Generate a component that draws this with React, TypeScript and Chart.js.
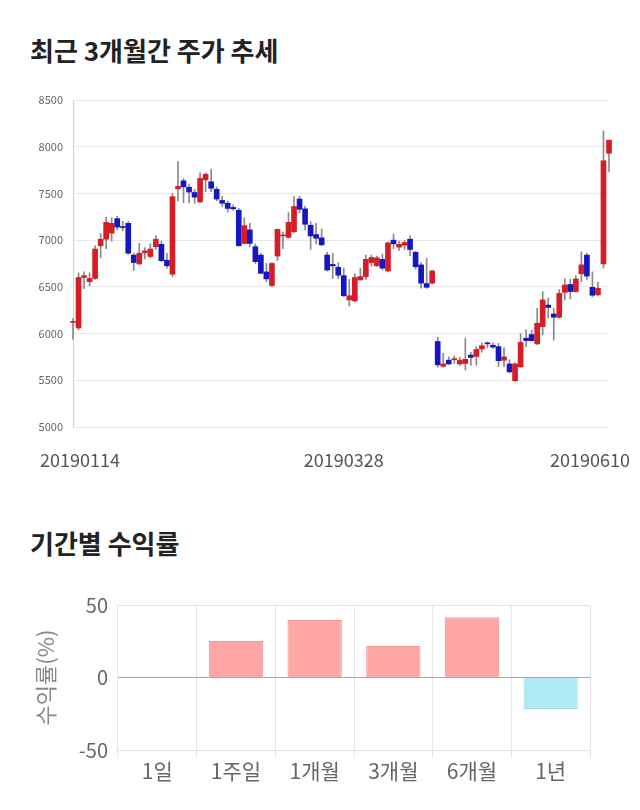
import React, { useEffect, useRef } from 'react';
import { Chart, registerables } from 'chart.js';

Chart.register(...registerables);

// ---- candlestick data (daily OHLC) ----
const opens = [
  6120, 6060, 6600, 6555, 6590, 6940, 7010, 7075, 7230, 7140,
  7180, 6840, 6745, 6865, 6825, 6930, 6955, 6785, 6635, 7550,
  7635, 7565, 7510, 7410, 7645, 7625, 7545, 7425, 7395, 7350,
  7320, 6965, 7110, 6930, 6840, 6660, 6515, 6830, 7045, 7030,
  7090, 7440, 7335, 7160, 7060, 7025, 6840, 6740, 6710, 6620,
  6360, 6350, 6575, 6610, 6760, 6725, 6795, 6670, 7000, 6925,
  6945, 7010, 6870, 6735, 6535, 6540, 5915, 5650, 5715, 5720,
  5675, 5680, 5770, 5755, 5835, 5895, 5875, 5860, 5715, 5675,
  5495, 5645, 5950, 5990, 5890, 6075, 6305, 6210, 6175, 6440,
  6525, 6450, 6640, 6840, 6495, 6415, 6745, 7930,
];
const highs = [
  6160, 6650, 6660, 6650, 6940, 7070, 7245, 7240, 7255, 7200,
  7200, 6860, 6965, 6920, 6960, 7050, 6990, 6860, 7500, 7840,
  7660, 7600, 7545, 7720, 7720, 7760, 7570, 7470, 7420, 7380,
  7340, 7240, 7180, 6960, 6860, 6750, 6760, 7120, 7090, 7295,
  7465, 7470, 7365, 7200, 7180, 7120, 6870, 6860, 6760, 6700,
  6580, 6640, 6700, 6840, 6840, 6830, 6850, 6980, 7065, 6990,
  6995, 7045, 6880, 6760, 6805, 6680, 5960, 5790, 5750, 5760,
  5745, 5950, 5800, 5860, 5900, 5910, 5900, 5895, 5850, 5720,
  5690, 6000, 6040, 6035, 6270, 6450, 6380, 6270, 6470, 6590,
  6580, 6620, 6875, 6860, 6660, 6550, 8170, 8070,
];
const lows = [
  5940, 6040, 6480, 6510, 6580, 6810, 6910, 6990, 7110, 7100,
  6850, 6675, 6740, 6800, 6810, 6900, 6770, 6700, 6610, 7420,
  7400, 7400, 7395, 7400, 7520, 7520, 7420, 7360, 7300, 7320,
  6935, 6960, 6930, 6750, 6640, 6555, 6505, 6780, 6910, 7020,
  7080, 7290, 7110, 6900, 6960, 6940, 6670, 6590, 6590, 6395,
  6295, 6340, 6570, 6580, 6720, 6720, 6680, 6660, 6910, 6890,
  6900, 6835, 6690, 6485, 6485, 6530, 5640, 5640, 5670, 5680,
  5660, 5610, 5660, 5660, 5800, 5850, 5840, 5645, 5645, 5580,
  5490, 5640, 5860, 5915, 5880, 5985, 6165, 5930, 6165, 6360,
  6370, 6440, 6555, 6580, 6395, 6405, 6700, 7730,
];
const closes = [
  6130, 6600, 6620, 6590, 6905, 7010, 7190, 7180, 7140, 7135,
  6860, 6760, 6860, 6885, 6905, 7010, 6780, 6725, 7465, 7575,
  7570, 7515, 7460, 7660, 7705, 7555, 7440, 7395, 7340, 7335,
  6940, 7155, 6965, 6770, 6645, 6585, 6750, 7115, 7050, 7190,
  7360, 7330, 7170, 7045, 7020, 6950, 6680, 6725, 6625, 6405,
  6405, 6600, 6610, 6795, 6815, 6810, 6700, 6970, 6960, 6955,
  6975, 6900, 6715, 6540, 6495, 6670, 5665, 5675, 5675, 5725,
  5715, 5725, 5745, 5830, 5870, 5890, 5855, 5710, 5750, 5590,
  5675, 5905, 5925, 5925, 6110, 6360, 6280, 6175, 6430, 6520,
  6450, 6585, 6735, 6615, 6410, 6485, 7850, 8070,
];
const xTickLabels = ['20190114', '20190328', '20190610'];
const xTickIndexes = [0, 49, 97];
const priceMin = 5000;
const priceMax = 8500;
const priceStep = 500;

// ---- period returns ----
const periods = ['1일', '1주일', '1개월', '3개월', '6개월', '1년'];
const returns = [0, 25.2, 39.6, 21.8, 41.6, -21.8];
const returnTicks = [-50, 0, 50];

const FONT = "'Noto Sans CJK KR', 'Noto Sans', sans-serif";
const UP = 'rgb(214, 28, 36)';
const DOWN = 'rgb(22, 22, 196)';

const xLabelPlugin = {
  id: 'xLabelPlugin',
  afterDraw(chart: any) {
    const { ctx } = chart;
    const xs = chart.scales.x;
    ctx.save();
    ctx.font = `18px ${FONT}`;
    ctx.fillStyle = '#555';
    ctx.textAlign = 'center';
    ctx.textBaseline = 'middle';
    xTickIndexes.forEach((idx, k) => {
      const text = xTickLabels[k];
      const w = ctx.measureText(text).width;
      let px = xs.getPixelForValue(idx);
      px = Math.max(px, 40 + w / 2);
      px = Math.min(px, 630 - w / 2);
      ctx.fillText(text, px, 380);
    });
    ctx.restore();
  },
};

function CandleChart() {
  const ref = useRef<HTMLCanvasElement>(null);
  useEffect(() => {
    const labels = opens.map((_, i) => String(i));
    const chart = new Chart(ref.current as HTMLCanvasElement, {
      type: 'bar',
      data: {
        labels,
        datasets: [
          {
            data: lows.map((l, i) => [l, highs[i]]) as any,
            backgroundColor: '#8a8a8a',
            barThickness: 1,
            grouped: false,
            order: 2,
            clip: false as any,
          } as any,
          {
            data: opens.map((o, i) => [o, closes[i]]) as any,
            backgroundColor: opens.map((o, i) => (closes[i] >= o ? UP : DOWN)),
            barThickness: 5,
            minBarLength: 1,
            grouped: false,
            order: 1,
            clip: false as any,
          } as any,
        ],
      },
      options: {
        animation: false,
        responsive: false,
        maintainAspectRatio: false,
        layout: { padding: { top: 20, right: 31, left: 0, bottom: 0 } },
        plugins: { legend: { display: false }, tooltip: { enabled: false } },
        scales: {
          x: {
            type: 'category',
            offset: false,
            grid: { display: false },
            border: { display: false },
            ticks: { display: false },
            afterFit: (s: any) => {
              s.height = 53;
            },
          },
          y: {
            min: priceMin,
            max: priceMax,
            ticks: {
              stepSize: priceStep,
              font: { family: FONT, size: 11 },
              color: '#666',
              padding: 10,
              callback: (v: any) => String(v),
            },
            grid: { color: '#e8e8e8', drawTicks: false },
            border: { display: true, color: '#d0d0d0' },
            afterFit: (s: any) => {
              s.width = 73;
            },
          },
        },
      } as any,
      plugins: [xLabelPlugin],
    });
    return () => chart.destroy();
  }, []);
  return (
    <canvas
      ref={ref}
      width={640}
      height={400}
      style={{ position: 'absolute', left: 0, top: 80, width: 640, height: 400 }}
    />
  );
}

function ReturnChart() {
  const ref = useRef<HTMLCanvasElement>(null);
  useEffect(() => {
    const chart = new Chart(ref.current as HTMLCanvasElement, {
      type: 'bar',
      data: {
        labels: periods,
        datasets: [
          {
            data: returns,
            backgroundColor: returns.map((v) => (v >= 0 ? '#ffa6a6' : '#aeeaf3')),
            borderColor: returns.map((v) => (v >= 0 ? '#f29a9a' : '#9cdbe6')),
            borderWidth: 1,
            categoryPercentage: 1,
            barPercentage: 0.69,
          },
        ],
      },
      options: {
        animation: false,
        responsive: false,
        maintainAspectRatio: false,
        layout: { padding: { top: 20, right: 50, left: 30, bottom: 0 } },
        plugins: { legend: { display: false }, tooltip: { enabled: false } },
        scales: {
          x: {
            grid: { color: '#e6e6e6', tickLength: 8 },
            border: { display: false },
            ticks: { font: { family: FONT, size: 21 }, color: '#666', padding: 0 },
            afterFit: (s: any) => {
              s.height = 48;
            },
          },
          y: {
            min: -50,
            max: 50,
            afterBuildTicks: (s: any) => {
              s.ticks = returnTicks.map((v) => ({ value: v }));
            },
            ticks: {
              font: { family: FONT, size: 20 },
              color: '#666',
              padding: 10,
            },
            grid: {
              drawTicks: false,
              color: (c: any) => (c.tick && c.tick.value === 0 ? '#a8a8a8' : '#e3e3e3'),
            },
            border: { display: false },
            title: {
              display: true,
              text: '수익률(%)',
              font: { family: FONT, size: 22 },
              color: '#888',
              padding: { top: 2, bottom: 2 },
            },
            afterFit: (s: any) => {
              s.width = 88;
            },
          },
        },
      } as any,
    });
    return () => chart.destroy();
  }, []);
  return (
    <canvas
      ref={ref}
      width={640}
      height={215}
      style={{ position: 'absolute', left: 0, top: 583, width: 640, height: 215 }}
    />
  );
}

export default function App() {
  const titleStyle: React.CSSProperties = {
    position: 'absolute',
    left: 30,
    fontFamily: FONT,
    fontWeight: 700,
    fontSize: 26,
    lineHeight: '32px',
    color: '#222',
    whiteSpace: 'nowrap',
  };
  return (
    <div
      style={{
        position: 'fixed',
        left: 0,
        top: 0,
        width: 640,
        height: 810,
        background: '#fff',
        overflow: 'hidden',
      }}
    >
      <div style={{ ...titleStyle, top: 34 }}>최근 3개월간 주가 추세</div>
      <CandleChart />
      <div style={{ ...titleStyle, top: 527 }}>기간별 수익률</div>
      <ReturnChart />
    </div>
  );
}
